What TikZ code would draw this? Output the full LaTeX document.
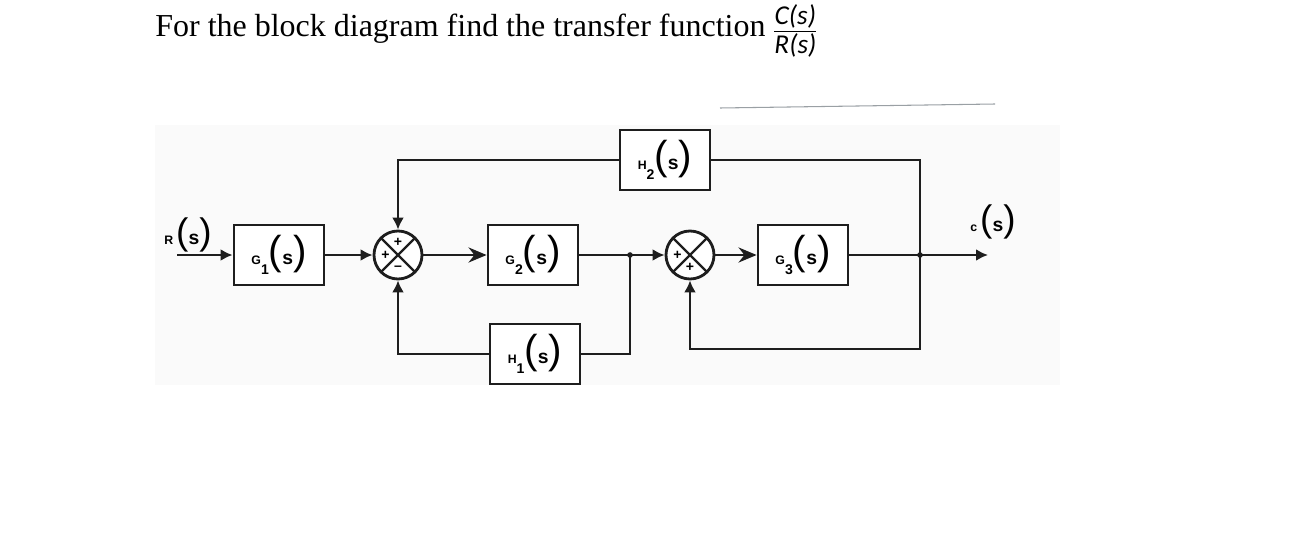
\documentclass[tikz,border=0pt]{standalone}
\usepackage{fontspec}
\setmainfont{Liberation Serif}
\setsansfont{Liberation Sans}
\newfontfamily\fracfont{Carlito}
\usepackage{tikz}
\usetikzlibrary{positioning,arrows.meta,calc}
\definecolor{ink}{HTML}{1E1E1E}
\definecolor{scan}{HTML}{FAFAFA}
\definecolor{scanEdge}{HTML}{9AA0A4}

% Block label: small letter, subscript, large brackets round s
\newcommand{\blkLabel}[2]{{\sffamily
  {\bfseries\fontsize{7}{7}\selectfont #1}\raisebox{-1.1ex}{\bfseries\fontsize{8}{8}\selectfont #2}%
  {\fontsize{23}{23}\selectfont(}%
  {\bfseries\fontsize{11}{11}\selectfont s}%
  {\fontsize{23}{23}\selectfont)}}}
\newcommand{\sigLabel}[1]{{\sffamily
  {\bfseries\fontsize{7}{7}\selectfont #1}\,%
  {\fontsize{21}{21}\selectfont(}%
  {\bfseries\fontsize{11}{11}\selectfont s}%
  {\fontsize{21}{21}\selectfont)}}}

\begin{document}
\begin{tikzpicture}[
  block/.style={
    rectangle, draw=ink, line width=1.6pt,
    minimum width=1.8cm, minimum height=1.2cm,
    inner sep=0pt, fill=white
  },
  sumNode/.style={
    circle, draw=ink, line width=1.6pt,
    minimum size=0.96cm, inner sep=0pt, fill=white,
    path picture={
      \draw[ink, line width=1.3pt]
        (path picture bounding box.north west) -- (path picture bounding box.south east)
        (path picture bounding box.south west) -- (path picture bounding box.north east);
    }
  },
  sign/.style={font=\sffamily\bfseries\fontsize{8}{8}\selectfont, inner sep=0pt},
  wire/.style={line width=1.6pt, draw=ink},
  sig/.style={wire, -{Latex[length=2.4mm,width=2.4mm]}},
  bigSig/.style={wire, -{Stealth[length=3.6mm,width=3mm]}}
]

% Page size 1290 x 560 px at 50 px per cm
\useasboundingbox (0,0) rectangle (25.8,-11.2);

% Faint scanned sheet behind the diagram
\fill[scan] (3.1,-2.5) rectangle (21.2,-7.7);
\draw[scanEdge, line width=0.6pt] (14.4,-2.16) -- (19.9,-2.08);

% Question
\node[anchor=base west, inner sep=0pt, font=\fontsize{18.2}{20}\selectfont] (question) at (3.1,-0.72)
  {For the block diagram find the transfer function};
\node[anchor=west, inner sep=0pt] (ratio) at (15.44,-0.62)
  {$\displaystyle\frac{\mbox{\fracfont\itshape\fontsize{15.5}{16}\selectfont C(s)}}{\mbox{\fracfont\itshape\fontsize{15.5}{16}\selectfont R(s)}}$};

% Forward path
\coordinate (in) at (3.54,-5.1);
\node[block] (G1) at (5.58,-5.1) {\blkLabel{G}{1}};
\node[sumNode] (S1) at (7.96,-5.1) {};
\node[block] (G2) at (10.66,-5.1) {\blkLabel{G}{2}};
\coordinate (b1) at (12.6,-5.1);
\node[sumNode] (S2) at (13.8,-5.1) {};
\node[block] (G3) at (16.06,-5.1) {\blkLabel{G}{3}};
\coordinate (b2) at (18.4,-5.1);
\coordinate (out) at (19.76,-5.1);

% Feedback blocks
\node[block] (H2) at (13.3,-3.2) {\blkLabel{H}{2}};
\node[block] (H1) at (10.7,-7.08) {\blkLabel{H}{1}};
\coordinate (loop) at (13.8,-6.98);

% Signs on the summing points
\node[sign] (S1top) at ($(S1)+(0,0.25)$) {+};
\node[sign] (S1left) at ($(S1)+(-0.25,0)$) {+};
\node[sign] (S1bot) at ($(S1)+(0,-0.26)$) {--};
\node[sign] (S2left) at ($(S2)+(-0.25,0)$) {+};
\node[sign] (S2bot) at ($(S2)+(0,-0.25)$) {+};

% Signal labels
\node (R) at (3.76,-4.7) {\sigLabel{R}};
\node (C) at (19.86,-4.44) {\sigLabel{c}};

% Connectors
\draw[sig] (in) -- (G1.west);
\draw[sig] (G1.east) -- (S1.west);
\draw[bigSig] (S1.east) -- (G2.west);
\draw[wire] (G2.east) -- (b1);
\draw[sig] (b1) -- (S2.west);
\draw[bigSig] (S2.east) -- (G3.west);
\draw[wire] (G3.east) -- (b2);
\draw[sig] (b2) -- (out);

% Outer loop through H2, inner loop through H1, unity loop round G3
\draw[wire] (b2) |- (H2.east);
\draw[sig] (H2.west) -| (S1.north);
\draw[wire] (b1) |- (H1.east);
\draw[sig] (H1.west) -| (S1.south);
\draw[sig] (b2) |- (loop) -- (S2.south);

\fill[ink] (b1) circle (1.6pt);
\fill[ink] (b2) circle (1.6pt);

\end{tikzpicture}
\end{document}
